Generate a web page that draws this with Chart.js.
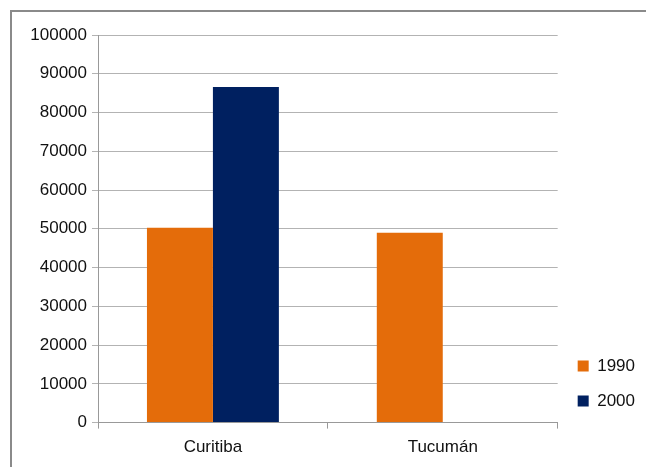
<!DOCTYPE html>
<html>
<head>
<meta charset="utf-8">
<script src="https://cdn.jsdelivr.net/npm/chart.js@4"></script>
<style>
  html, body { margin: 0; padding: 0; background: #fff; }
  #wrap { position: relative; width: 646px; height: 467px; overflow: hidden; }
  #frame { position: absolute; left: 10px; top: 10px; width: 700px; height: 520px;
           border: 2px solid #8a8a8a; pointer-events: none; }
  canvas { position: absolute; left: 0; top: 0; }
</style>
</head>
<body>
<div id="wrap">
  <canvas id="c" width="646" height="467"></canvas>
  <div id="frame"></div>
</div>
<script>
// Cities and population by census year
const categories = ['Curitiba', 'Tucumán'];
const years = ['1990', '2000'];
const values1990 = [50300, 49000];
const values2000 = [86600, null];
const yTicks = [0, 10000, 20000, 30000, 40000, 50000, 60000, 70000, 80000, 90000, 100000];

const FONT = "'Liberation Sans', Arial, sans-serif";

// Nudges the legend block down a little within its layout box
const legendNudge = {
  id: 'legendNudge',
  afterLayout(chart) {
    const lg = chart.legend;
    if (lg) { lg.top += 5; lg.bottom += 5; lg.left += 2; lg.right += 2; }
  }
};

new Chart(document.getElementById('c'), {
  type: 'bar',
  data: {
    labels: categories,
    datasets: [
      { label: years[0], data: values1990, backgroundColor: '#E46C0A', borderWidth: 0 },
      { label: years[1], data: values2000, backgroundColor: '#002060', borderWidth: 0 }
    ]
  },
  plugins: [legendNudge],
  options: {
    responsive: false,
    animation: false,
    devicePixelRatio: 1,
    layout: { padding: { left: 0, top: 35, right: 3, bottom: 0 } },
    datasets: { bar: { barPercentage: 1, categoryPercentage: 0.574 } },
    plugins: {
      tooltip: { enabled: false },
      legend: {
        position: 'right',
        align: 'end',
        fullSize: false,
        labels: {
          boxWidth: 11, boxHeight: 11, padding: 18,
          color: '#111', font: { family: FONT, size: 17 }
        }
      }
    },
    scales: {
      x: {
        grid: { drawOnChartArea: false, tickLength: 6, color: '#999' },
        border: { color: '#999' },
        ticks: { color: '#111', font: { family: FONT, size: 17 }, padding: 9 }
      },
      y: {
        min: 0, max: 100000,
        afterFit(axis) { axis.width = 98; },
        afterBuildTicks(axis) { axis.ticks = yTicks.map(v => ({ value: v })); },
        grid: { color: '#b3b3b3', tickLength: 6 },
        border: { color: '#999' },
        ticks: { color: '#111', font: { family: FONT, size: 17 }, padding: 5,
                 callback: v => String(v) }
      }
    }
  }
});
</script>
</body>
</html>
